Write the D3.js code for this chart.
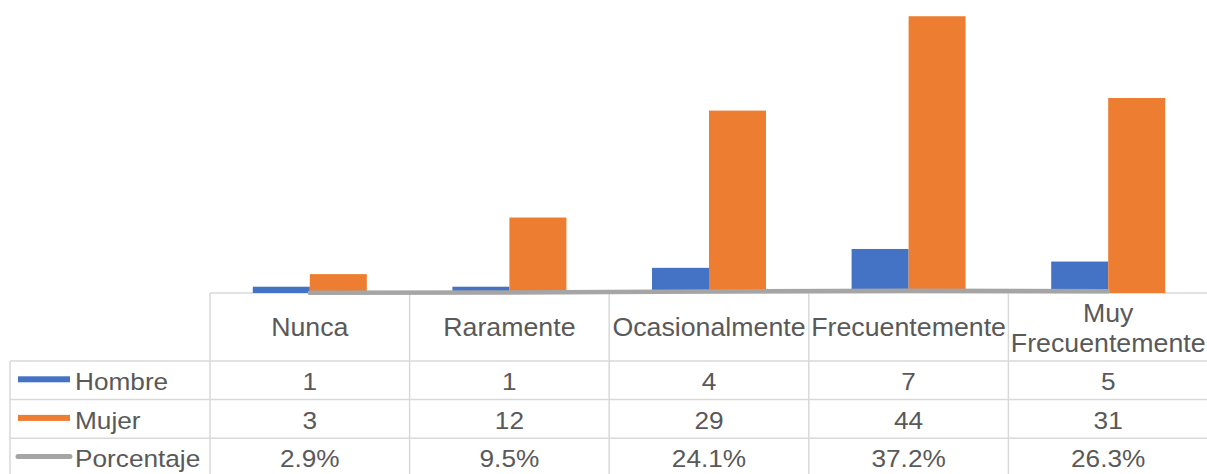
<!DOCTYPE html>
<html>
<head>
<meta charset="utf-8">
<script src="https://cdn.jsdelivr.net/npm/d3@7"></script>
<style>
  html, body { margin: 0; padding: 0; background: #fff; }
  svg { display: block; font-family: "Liberation Sans", Arial, sans-serif; }
</style>
</head>
<body>
<div id="chart"><svg></svg></div>
<script>
// data
var categories = ["Nunca", "Raramente", "Ocasionalmente", "Frecuentemente", "Muy Frecuentemente"];
var hombre = [1, 1, 4, 7, 5];
var mujer = [3, 12, 29, 44, 31];
var porcentaje = [2.9, 9.5, 24.1, 37.2, 26.3];
var seriesNames = ["Hombre", "Mujer", "Porcentaje"];
var colors = { Hombre: "#4472C4", Mujer: "#ED7D31", Porcentaje: "#A5A5A5" };

width = 1207;
height = 474;
var plotBottom = 293;   // value axis zero, also top of the data table
var headerBottom = 361; // bottom of the category label row
var rowH = 38.6;
var tableLeft = 210;
var labelLeft = 10;
var textColor = "#595959";
var gridColor = "#D9D9D9";

var svg = d3.select("div#chart").select("svg")
  .attr("width", width)
  .attr("height", height);

x = d3.scaleBand()
  .domain(categories)
  .range([tableLeft, 1208])
  .padding(0);

y = d3.scaleLinear()
  .domain([0, 50])
  .range([plotBottom, plotBottom - 314.5]);

var barW = 57;
var xs = d3.scaleBand()
  .domain(["Hombre", "Mujer"])
  .range([-barW, barW]);

var rows = categories.map(function (c, i) {
  return { cat: c, Hombre: hombre[i], Mujer: mujer[i], Porcentaje: porcentaje[i] };
});

function cx(c) { return x(c) + x.bandwidth() / 2; }

// table grid
var grid = svg.append("g").attr("class", "grid")
  .attr("stroke", gridColor).attr("stroke-width", 1.5);

grid.append("line")
  .attr("x1", tableLeft).attr("x2", width)
  .attr("y1", plotBottom).attr("y2", plotBottom);

[0, 1, 2].forEach(function (r) {
  var yy = headerBottom + r * rowH;
  grid.append("line")
    .attr("x1", labelLeft).attr("x2", width)
    .attr("y1", yy).attr("y2", yy);
});

grid.append("line")
  .attr("x1", labelLeft).attr("x2", labelLeft)
  .attr("y1", headerBottom).attr("y2", height);

grid.selectAll("line.col")
  .data(categories)
  .join("line")
  .attr("class", "col")
  .attr("x1", function (d) { return x(d); })
  .attr("x2", function (d) { return x(d); })
  .attr("y1", plotBottom).attr("y2", height);

// bars
svg.append("g")
  .attr("class", "bars")
  .selectAll("g")
  .data(rows)
  .join("g")
  .attr("transform", function (d) { return "translate(" + cx(d.cat) + ",0)"; })
  .selectAll("rect")
  .data(function (d) { return ["Hombre", "Mujer"].map(function (k) { return { key: k, value: d[k] }; }); })
  .join("rect")
  .attr("x", function (d) { return xs(d.key); })
  .attr("width", xs.bandwidth())
  .attr("y", function (d) { return y(d.value); })
  .attr("height", function (d) { return plotBottom - y(d.value); })
  .attr("fill", function (d) { return colors[d.key]; });

// percentage line (plotted on the same axis, as fractions)
var line = d3.line()
  .x(function (d) { return cx(d.cat); })
  .y(function (d) { return y(d.Porcentaje / 100); });

svg.append("path")
  .datum(rows)
  .attr("d", line)
  .attr("fill", "none")
  .attr("stroke", colors.Porcentaje)
  .attr("stroke-width", 4.5)
  .attr("stroke-linecap", "round");

// text helper, text in the reference is slightly wide
function addText(g, str, tx, ty, anchor, size) {
  return g.append("text")
    .attr("transform", "translate(" + tx + "," + ty + ") scale(1.07,1)")
    .attr("text-anchor", anchor || "middle")
    .attr("fill", textColor)
    .attr("font-size", size || 24.5)
    .text(str);
}

// category header row
var header = svg.append("g").attr("class", "header");
categories.forEach(function (c) {
  var parts = c === "Muy Frecuentemente" ? ["Muy", "Frecuentemente"] : [c];
  if (parts.length === 1) {
    addText(header, c, cx(c), 336, "middle", 25);
  } else {
    addText(header, parts[0], cx(c), 322, "middle", 25);
    addText(header, parts[1], cx(c), 352, "middle", 25);
  }
});

// data rows with legend keys
var table = svg.append("g").attr("class", "table");
var rowValues = {
  Hombre: hombre.map(String),
  Mujer: mujer.map(String),
  Porcentaje: porcentaje.map(function (v) { return v.toFixed(1) + "%"; })
};

seriesNames.forEach(function (s, r) {
  var base = headerBottom + r * rowH + 29;
  var mid = headerBottom + r * rowH + rowH / 2;
  if (s === "Porcentaje") {
    table.append("line")
      .attr("x1", 18).attr("x2", 70)
      .attr("y1", mid - 1).attr("y2", mid - 1)
      .attr("stroke", colors[s])
      .attr("stroke-width", 5)
      .attr("stroke-linecap", "round");
  } else {
    table.append("rect")
      .attr("x", 18).attr("y", mid - 4)
      .attr("width", 52).attr("height", 6)
      .attr("fill", colors[s]);
  }
  addText(table, s, 75, base, "start");
  rowValues[s].forEach(function (v, i) {
    addText(table, v, cx(categories[i]), base);
  });
});
</script>
</body>
</html>
